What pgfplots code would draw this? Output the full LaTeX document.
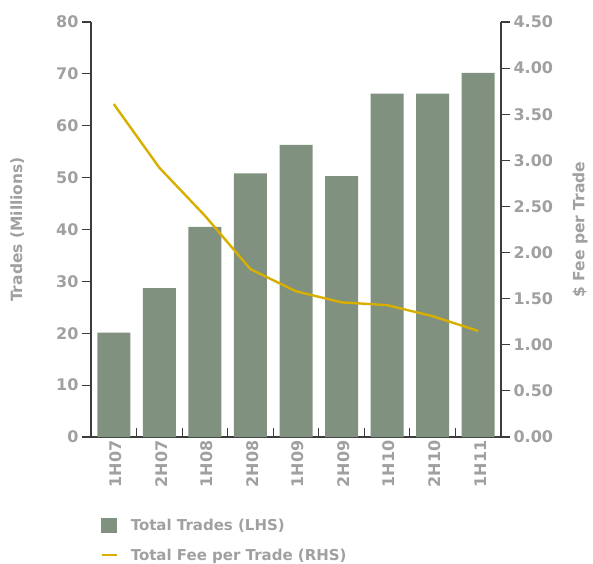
\documentclass[border=0pt]{standalone}
\usepackage{pgfplots}
\pgfplotsset{compat=1.18}
\usepackage{fontspec}
\setmainfont{DejaVu Sans}[UprightFont=* Bold]
\definecolor{barc}{HTML}{80927F}
\definecolor{linec}{HTML}{D8AE00}
\definecolor{txt}{HTML}{A0A0A0}
\definecolor{axc}{HTML}{3C3C3C}
\pgfplotstableread{
x trades fee
0 20.1 3.61
1 28.7 2.92
2 40.5 2.40
3 50.8 1.82
4 56.3 1.58
5 50.3 1.46
6 66.2 1.43
7 66.2 1.31
8 70.2 1.15
}\data
\begin{document}
\begin{tikzpicture}
\pgfplotsset{
  common/.style={
    scale only axis, width=410pt, height=415pt,
    at={(91pt,126pt)}, anchor=south west,
    xmin=-0.5, xmax=8.5,
    axis line style={axc, line width=1.2pt},
    tick style={axc, line width=1.2pt},
    major tick length=9pt,
    ticklabel style={font=\fontsize{16}{18}\selectfont, text=txt},
    /pgf/number format/assume math mode=true,
    label style={font=\fontsize{15.5}{17}\selectfont, text=txt},
  }
}
% bars and x axis (ticks inside)
\begin{axis}[common,
  axis x line*=bottom, axis y line=none,
  tick align=inside,
  ymin=0, ymax=80,
  xtick={-0.5,0.5,...,8.5},
  x tick label as interval,
  xticklabels={1H07,2H07,1H08,2H08,1H09,2H09,1H10,2H10,1H11},
  xticklabel style={rotate=90, anchor=east, yshift=-2pt},
]
\addplot[ybar, bar width=33pt, fill=barc, draw=none] table[x=x, y=trades]{\data};
\end{axis}
% left y axis
\begin{axis}[common,
  axis x line=none, axis y line*=left,
  tick align=outside,
  ymin=0, ymax=80, ytick={0,10,...,80},
  ylabel={Trades (Millions)},
  ylabel style={at={(axis description cs:-0.18,0.5)}, anchor=center},
]
\end{axis}
% right y axis and line
\begin{axis}[common,
  axis x line=none, axis y line*=right,
  tick align=outside,
  ymin=0, ymax=4.5, ytick={0,0.5,...,4.5},
  yticklabel style={/pgf/number format/.cd, fixed, fixed zerofill, precision=2},
  ylabel={\$ Fee per Trade},
  ylabel style={at={(axis description cs:1.193,0.5)}, anchor=center},
  legend style={at={(axis description cs:0.015,-0.187)}, anchor=north west,
    draw=none, fill=none, font=\fontsize{15}{17}\selectfont, text=txt,
    row sep=13pt, column sep=11pt},
  legend cell align=left,
]
\addlegendimage{legend image code/.code={\fill[barc] (0pt,-7pt) rectangle (15pt,7pt);}}
\addlegendentry{Total Trades (LHS)}
\addplot[linec, line width=2.4pt, legend image code/.code={\draw[linec, line width=2.4pt] (0pt,0pt) -- (15pt,0pt);}] table[x=x, y=fee]{\data};
\addlegendentry{Total Fee per Trade (RHS)}
\end{axis}
\pgfresetboundingbox
\path (0,0) rectangle (593pt,563pt);
\end{tikzpicture}
\end{document}
